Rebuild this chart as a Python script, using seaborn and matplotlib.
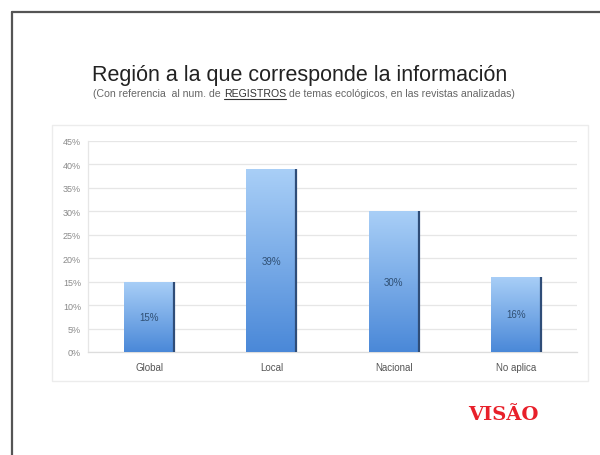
import numpy as np
import pandas as pd
import seaborn as sns
import matplotlib.pyplot as plt
from matplotlib.lines import Line2D
from matplotlib.patches import Rectangle
from matplotlib.colors import LinearSegmentedColormap

categories = ["Global", "Local", "Nacional", "No aplica"]
values = [15, 39, 30, 16]
value_labels = ["15%", "39%", "30%", "16%"]
yticks = [0, 5, 10, 15, 20, 25, 30, 35, 40, 45]
ytick_labels = ["0%", "5%", "10%", "15%", "20%", "25%", "30%", "35%", "40%", "45%"]

title = "Región a la que corresponde la información"
sub_pre = "(Con referencia  al num. de "
sub_bold = "REGISTROS"
sub_post = " de temas ecológicos, en las revistas analizadas)"
brand = "VISÃO"

sns.set_theme(style="white")
plt.rcParams['font.family'] = ['Liberation Sans', 'DejaVu Sans']

fig = plt.figure(figsize=(6, 4.56), dpi=100)
W, H = 600, 456
ax = fig.add_axes([88 / W, 1 - 353 / H, (577 - 88) / W, (353 - 142) / H])

df = pd.DataFrame({"cat": categories, "val": values})
sns.barplot(data=df, x="cat", y="val", ax=ax, color="#6fa6e6", width=0.41,
            saturation=1, zorder=3)

ax.set_ylim(0, 45)
ax.set_xlim(-0.5, len(categories) - 0.5)
ax.set_yticks(yticks)
ax.set_yticklabels(ytick_labels)
ax.set_xlabel("")
ax.set_ylabel("")
ax.grid(axis="y", color="#e6e6e6", linewidth=0.9, zorder=0)
ax.tick_params(axis="y", labelsize=6.5, labelcolor="#8a8a8a", length=0, pad=5)
ax.tick_params(axis="x", labelsize=7, labelcolor="#555555", length=0, pad=7)
ax.set_xticks(np.arange(len(categories)) + 0.5, minor=True)
ax.tick_params(axis="x", which="minor", length=3, color="#dddddd", width=0.8)
for s in ["top", "right"]:
    ax.spines[s].set_visible(False)
ax.spines["left"].set_color("#e6e6e6")
ax.spines["bottom"].set_color("#dddddd")
ax.spines["left"].set_linewidth(0.9)
ax.spines["bottom"].set_linewidth(0.9)

# gradient fill on bars
cmap = LinearSegmentedColormap.from_list("g", ["#4a88d8", "#a9cff7"])
grad = np.linspace(0, 1, 256).reshape(-1, 1)
for p, lab in zip(ax.patches, value_labels):
    x0, y0 = p.get_x(), p.get_y()
    w, h = p.get_width(), p.get_height()
    p.set_facecolor("none")
    p.set_edgecolor("none")
    im = ax.imshow(grad, cmap=cmap, origin="lower", aspect="auto",
                   extent=[x0, x0 + w, y0, y0 + h], zorder=3)
    im.set_clip_path(p)
    ax.plot([x0 + w, x0 + w], [y0, y0 + h], color="#2f4d78", linewidth=1.6,
            zorder=4, solid_capstyle="butt")
    ax.text(x0 + w / 2, y0 + h / 2, lab, ha="center", va="center",
            fontsize=7, color="#2f4f73", zorder=5)
ax.set_xlim(-0.5, len(categories) - 0.5)
ax.set_ylim(0, 45)

# chart frame
fig.patches.append(Rectangle((52 / W, 1 - 382 / H), (588 - 52) / W, (382 - 126) / H,
                             transform=fig.transFigure, fill=False,
                             edgecolor="#ececec", linewidth=1.0))

# slide border
fig.add_artist(Line2D([11.5 / W, 11.5 / W], [0, 1 - 13 / H], transform=fig.transFigure,
                      color="#555555", linewidth=1.6))
fig.add_artist(Line2D([11.5 / W, 1], [1 - 13 / H, 1 - 13 / H], transform=fig.transFigure,
                      color="#555555", linewidth=1.6))

# titles
fig.text(300 / W, 1 - 75.5 / H, title, ha="center", va="center", fontsize=15.5,
         color="#222222")

fig.canvas.draw()
r = fig.canvas.get_renderer()
sub_y = 1 - 94 / H
fs = 7.6
t1 = fig.text(0, sub_y, sub_pre, ha="left", va="center", fontsize=fs, color="#666666")
t2 = fig.text(0, sub_y, sub_bold, ha="left", va="center", fontsize=fs, color="#333333")
t3 = fig.text(0, sub_y, sub_post, ha="left", va="center", fontsize=fs, color="#666666")
w1 = t1.get_window_extent(r).width
w2 = t2.get_window_extent(r).width
w3 = t3.get_window_extent(r).width
total = w1 + w2 + w3
start = 304 - total / 2
t1.set_x(start / W)
t2.set_x((start + w1) / W)
t3.set_x((start + w1 + w2) / W)
fig.add_artist(Line2D([(start + w1) / W, (start + w1 + w2) / W],
                      [1 - 99.5 / H, 1 - 99.5 / H], transform=fig.transFigure,
                      color="#333333", linewidth=0.8))

fig.text(503 / W, 1 - 415 / H, brand, ha="center", va="center", fontsize=14,
         fontweight="heavy", color="#e8202a", family=["DejaVu Serif"])

fig.savefig("out.png", dpi=100)
